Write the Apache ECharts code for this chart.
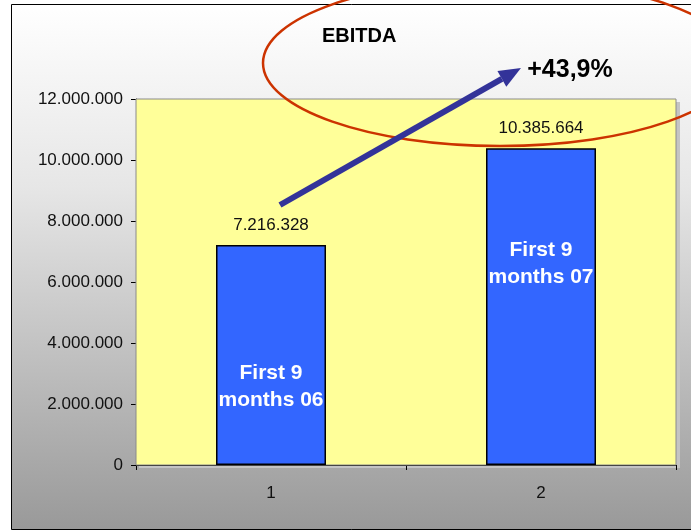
<!DOCTYPE html>
<html>
<head>
<meta charset="utf-8">
<title>EBITDA</title>
<script src="https://cdn.jsdelivr.net/npm/echarts@6/dist/echarts.min.js"></script>
<style>
  html, body { margin: 0; padding: 0; background: #fff; }
  #chart { width: 691px; height: 531px; }
</style>
</head>
<body>
<div id="chart"></div>
<script>
// data
const categories = ['1', '2']
const ebitda = [7216328, 10385664]
const periodNames = ['First 9\nmonths 06', 'First 9\nmonths 07']
const growthText = '+43,9%'
const yTicks = { min: 0, max: 12000000, step: 2000000 }

const FONT = "'Liberation Sans', Arial, sans-serif"

function dotted(n) {
  return String(Math.round(n)).replace(/\B(?=(\d{3})+(?!\d))/g, '.')
}

// arrow from bar 1 label up to the growth text
const arrowFrom = [280, 205]
const arrowTip = [521, 68]
function arrowHead(from, tip, len, half) {
  const dx = tip[0] - from[0], dy = tip[1] - from[1]
  const l = Math.sqrt(dx * dx + dy * dy)
  const ux = dx / l, uy = dy / l
  const bx = tip[0] - ux * len, by = tip[1] - uy * len
  return {
    base: [bx, by],
    pts: [tip, [bx - uy * half, by + ux * half], [bx + uy * half, by - ux * half]]
  }
}
const head = arrowHead(arrowFrom, arrowTip, 22, 9)

let chart = echarts.init(document.getElementById('chart'))
chart.setOption({
  animation: false,
  textStyle: { fontFamily: FONT },
  title: {
    text: 'EBITDA',
    left: 317,
    top: 21,
    textStyle: { fontSize: 20, fontWeight: 'bold', color: '#000', fontFamily: FONT }
  },
  grid: {
    left: 136,
    right: 15,
    top: 99,
    bottom: 66,
    show: true,
    backgroundColor: '#FFFF99',
    borderColor: '#8a8a8a',
    borderWidth: 1,
    z: 1
  },
  xAxis: {
    type: 'category',
    data: categories,
    axisLine: { lineStyle: { color: '#000', width: 1 } },
    axisTick: { show: true, length: 5, lineStyle: { color: '#000' } },
    axisLabel: { fontSize: 17, color: '#111', margin: 20, fontFamily: FONT },
    splitLine: { show: false }
  },
  yAxis: {
    type: 'value',
    min: yTicks.min,
    max: yTicks.max,
    interval: yTicks.step,
    axisLine: { show: true, lineStyle: { color: '#000', width: 1 } },
    axisTick: { show: true, length: 5, lineStyle: { color: '#000' } },
    axisLabel: {
      fontSize: 17,
      color: '#111',
      margin: 13,
      fontFamily: FONT,
      formatter: v => dotted(v)
    },
    splitLine: { show: true, lineStyle: { color: '#000', width: 1 } }
  },
  series: [
    {
      name: 'EBITDA',
      type: 'bar',
      data: ebitda,
      barWidth: 110,
      silent: true,
      z: 3,
      itemStyle: { color: '#3366FF', borderColor: '#000', borderWidth: 1.5 },
      label: {
        show: true,
        position: 'top',
        distance: 11,
        fontSize: 17,
        color: '#111',
        fontFamily: FONT,
        formatter: p => dotted(p.value)
      }
    },
    {
      name: 'period',
      type: 'bar',
      barGap: '-100%',
      barWidth: 110,
      silent: true,
      z: 4,
      itemStyle: { color: 'transparent' },
      data: ebitda.map((v, i) => ({
        value: v,
        label: { position: ['50%', i === 0 ? '64.5%' : '36.5%'] }
      })),
      label: {
        show: true,
        align: 'center',
        verticalAlign: 'middle',
        fontSize: 21,
        fontWeight: 'bold',
        lineHeight: 27,
        color: '#fff',
        fontFamily: FONT,
        formatter: p => periodNames[p.dataIndex]
      }
    }
  ],
  graphic: [
    {
      type: 'rect',
      z: -100,
      silent: true,
      shape: { x: 11.5, y: 4.5, width: 700, height: 525 },
      style: {
        fill: new echarts.graphic.LinearGradient(0, 0, 0, 1, [
          { offset: 0, color: '#ffffff' },
          { offset: 0.35, color: '#e6e6e6' },
          { offset: 1, color: '#999999' }
        ]),
        stroke: '#000',
        lineWidth: 1
      }
    },
    {
      // plot area shadow
      type: 'rect',
      z: -50,
      silent: true,
      shape: { x: 139, y: 102, width: 541, height: 366 },
      style: { fill: '#c4c4c4' }
    },
    {
      type: 'ellipse',
      z: 100,
      silent: true,
      shape: { cx: 500, cy: 63, rx: 237, ry: 83 },
      style: { fill: 'none', stroke: '#CC3300', lineWidth: 2.5 }
    },
    {
      type: 'line',
      z: 100,
      silent: true,
      shape: { x1: arrowFrom[0], y1: arrowFrom[1], x2: head.base[0], y2: head.base[1] },
      style: { stroke: '#333399', lineWidth: 6 }
    },
    {
      type: 'polygon',
      z: 100,
      silent: true,
      shape: { points: head.pts },
      style: { fill: '#333399' }
    },
    {
      type: 'text',
      z: 100,
      silent: true,
      x: 570,
      y: 70,
      style: {
        text: growthText,
        fontSize: 25,
        fontWeight: 'bold',
        fontFamily: FONT,
        fill: '#000',
        align: 'center',
        verticalAlign: 'middle'
      }
    }
  ]
})
window.onresize = chart.resize
</script>
</body>
</html>
